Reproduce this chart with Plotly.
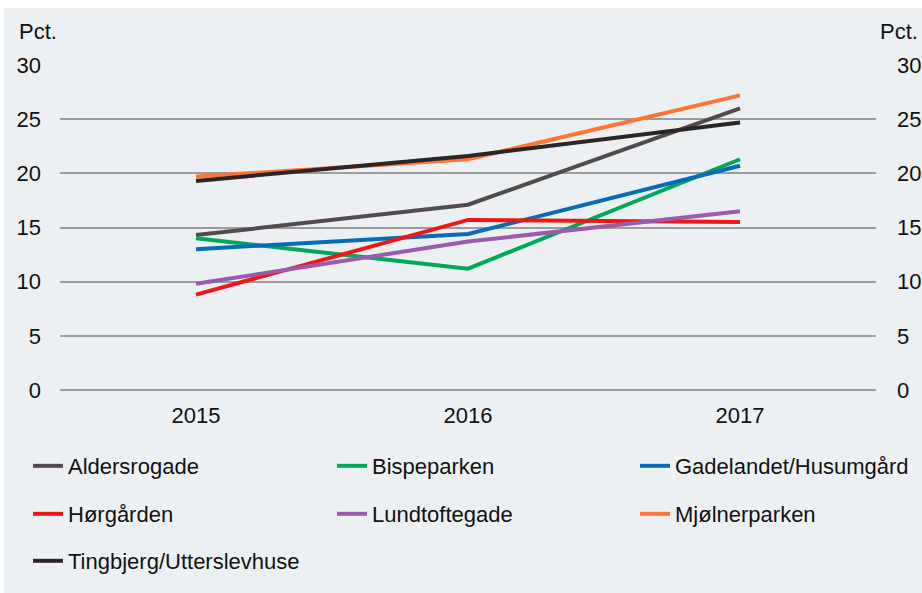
import plotly.graph_objects as go

years = ["2015", "2016", "2017"]

aldersrogade = [14.3, 17.1, 26.0]
bispeparken = [14.0, 11.2, 21.3]
gadelandet_husumgaard = [13.0, 14.4, 20.7]
hoergaarden = [8.8, 15.7, 15.5]
lundtoftegade = [9.8, 13.7, 16.5]
mjoelnerparken = [19.7, 21.3, 27.2]
tingbjerg_utterslevhuse = [19.3, 21.6, 24.7]

y_ticks = [0, 5, 10, 15, 20, 25, 30]

series = [
    ("Aldersrogade", aldersrogade, "#514c4b"),
    ("Bispeparken", bispeparken, "#00a95a"),
    ("Gadelandet/Husumgård", gadelandet_husumgaard, "#066cb8"),
    ("Hørgården", hoergaarden, "#f01616"),
    ("Lundtoftegade", lundtoftegade, "#9a5bab"),
    ("Mjølnerparken", mjoelnerparken, "#ff7433"),
    ("Tingbjerg/Utterslevhuse", tingbjerg_utterslevhuse, "#2b2625"),
]

W, H = 922, 593
ML, MR, MT, MB = 60, 46, 65, 203
BG = "#edf0f3"
FONT = "Liberation Sans, Arial, sans-serif"
FS = 22
TXT = "#111111"

# legend grid: three columns, three rows (pixel positions of each entry)
col_x = [28, 332, 635]
row_y = [466, 514, 561]

fig = go.Figure()
layout_legends = {}
for i, (name, vals, color) in enumerate(series):
    key = "legend" if i == 0 else f"legend{i + 1}"
    fig.add_trace(go.Scatter(
        x=years, y=vals, name=name, mode="lines",
        line=dict(color=color, width=4),
        legend=key,
    ))
    layout_legends[key] = dict(
        orientation="h", xref="container", yref="container",
        x=col_x[i % 3] / W, xanchor="left",
        y=1 - row_y[i // 3] / H, yanchor="middle",
        bgcolor="rgba(0,0,0,0)",
        font=dict(size=FS, color=TXT, family=FONT),
        itemclick=False, itemdoubleclick=False,
    )

# transparent copy on the right-hand axis so its tick labels are drawn
fig.add_trace(go.Scatter(
    x=years, y=mjoelnerparken, yaxis="y2", mode="lines",
    line=dict(width=0, color="rgba(0,0,0,0)"),
    showlegend=False, hoverinfo="skip",
))

axis_y = dict(
    range=[0, 30], tickvals=y_ticks, showline=False, ticks="",
    tickfont=dict(size=FS, color=TXT, family=FONT), fixedrange=True,
)

fig.update_layout(
    width=W, height=H,
    margin=dict(l=ML, r=MR, t=MT, b=MB, autoexpand=False),
    paper_bgcolor=BG, plot_bgcolor=BG,
    font=dict(family=FONT, size=FS, color=TXT),
    xaxis=dict(
        type="category", range=[-0.5, 2.5], showgrid=False, showline=False,
        zeroline=False, ticks="", ticklabelstandoff=10,
        tickfont=dict(size=FS, color=TXT, family=FONT),
    ),
    yaxis=dict(**axis_y, showgrid=True, gridcolor="#9c9c9c", gridwidth=1.5,
               zeroline=True, zerolinecolor="#9c9c9c", zerolinewidth=1.5,
               ticklabelstandoff=18),
    yaxis2=dict(**axis_y, overlaying="y", side="right", showgrid=False,
                zeroline=False, ticklabelstandoff=20),
    showlegend=True,
    **layout_legends,
)

plot_w, plot_h = W - ML - MR, H - MT - MB


def px_x(p):
    return (p - ML) / plot_w


def px_y(p):
    return (H - MB - p) / plot_h


# unit labels above both axes
for xpos, anchor in [(17, "left"), (920, "right")]:
    fig.add_annotation(
        text="Pct.", xref="paper", yref="paper", showarrow=False,
        x=px_x(xpos), xanchor=anchor, y=px_y(31), yanchor="middle",
        font=dict(size=FS, color=TXT, family=FONT),
    )

# white page border along the top and left edges
fig.add_shape(type="rect", xref="paper", yref="paper",
              x0=px_x(0), x1=px_x(W), y0=px_y(8), y1=px_y(0),
              fillcolor="white", line_width=0, layer="below")
fig.add_shape(type="rect", xref="paper", yref="paper",
              x0=px_x(0), x1=px_x(4), y0=px_y(H), y1=px_y(0),
              fillcolor="white", line_width=0, layer="below")

fig.write_html("out.html")
